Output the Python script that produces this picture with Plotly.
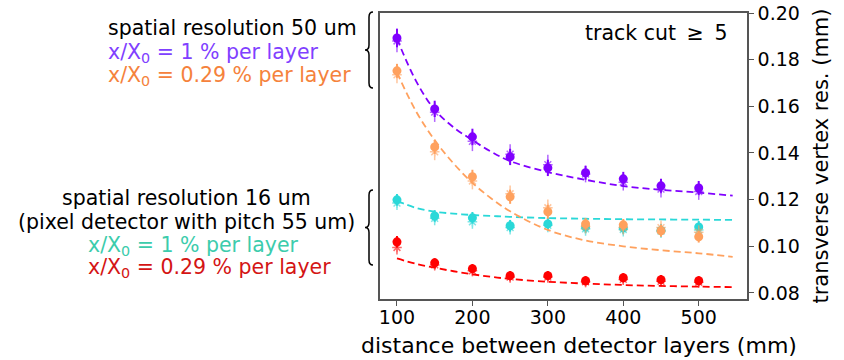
import plotly.graph_objects as go

# ---------------- data ----------------
distance = [100, 150, 200, 250, 300, 350, 400, 450, 500]

purple_val = [0.1893, 0.1589, 0.1469, 0.1383, 0.1336, 0.1315, 0.1289, 0.1259, 0.1250]
purple_err = [0.0040, 0.0035, 0.0035, 0.0035, 0.0035, 0.0030, 0.0030, 0.0030, 0.0030]
purple_alt = [0.1880, 0.1575, 0.1450, 0.1395, 0.1350, 0.1310, 0.1275, 0.1245, 0.1235]

orange_val = [0.1752, 0.1426, 0.1298, 0.1212, 0.1148, 0.1096, 0.1092, 0.1066, 0.1041]
orange_err = [0.0030, 0.0030, 0.0030, 0.0030, 0.0030, 0.0025, 0.0025, 0.0025, 0.0025]
orange_alt = [0.1735, 0.1405, 0.1280, 0.1225, 0.1165, 0.1085, 0.1080, 0.1080, 0.1060]

cyan_val = [0.1199, 0.1130, 0.1122, 0.1088, 0.1096, 0.1083, 0.1079, 0.1068, 0.1083]
cyan_err = [0.0025, 0.0025, 0.0025, 0.0025, 0.0025, 0.0025, 0.0025, 0.0025, 0.0025]
cyan_alt = [0.1185, 0.1120, 0.1105, 0.1080, 0.1090, 0.1075, 0.1072, 0.1065, 0.1070]

red_val = [0.1019, 0.0929, 0.0904, 0.0874, 0.0874, 0.0852, 0.0865, 0.0857, 0.0852]
red_err = [0.0025, 0.0020, 0.0020, 0.0020, 0.0020, 0.0020, 0.0020, 0.0020, 0.0020]
red_alt = [0.0995, 0.0920, 0.0895, 0.0868, 0.0868, 0.0848, 0.0858, 0.0850, 0.0846]

# fitted curves
fit_x = [100, 125, 150, 175, 200, 225, 250, 300, 350, 400, 450, 500, 545]
purple_fit = [0.1890, 0.1710, 0.1585, 0.1510, 0.1455, 0.1405, 0.1365, 0.1318, 0.1285, 0.1258, 0.1242, 0.1230, 0.1217]
orange_fit = [0.1745, 0.1580, 0.1455, 0.1355, 0.1272, 0.1205, 0.1150, 0.1070, 0.1025, 0.1000, 0.0983, 0.0970, 0.0955]
cyan_fit = [0.1195, 0.1165, 0.1148, 0.1140, 0.1134, 0.1130, 0.1126, 0.1121, 0.1118, 0.1116, 0.1115, 0.1114, 0.1113]
red_fit = [0.0948, 0.0925, 0.0908, 0.0893, 0.0880, 0.0869, 0.0860, 0.0848, 0.0840, 0.0834, 0.0830, 0.0827, 0.0825]

y_ticks = [0.08, 0.10, 0.12, 0.14, 0.16, 0.18, 0.20]
x_ticks = [100, 200, 300, 400, 500]

FONT = "DejaVu Sans"
W, H = 844, 360
L, R, T, B = 380, 97, 13, 61
PW, PH = W - L - R, H - T - B


def px(x):
    return (x - L) / PW


def py(y):
    return (H - B - y) / PH


series = [
    ("purple", purple_val, purple_err, purple_alt, purple_fit, "#8000ff"),
    ("cyan", cyan_val, cyan_err, cyan_alt, cyan_fit, "#2ad8d8"),
    ("orange", orange_val, orange_err, orange_alt, orange_fit, "#ffa15e"),
    ("red", red_val, red_err, red_alt, red_fit, "#ff0000"),
]

fig = go.Figure()
for name, val, err, alt, fit, col in series:
    fig.add_trace(go.Scatter(
        x=fit_x, y=fit, mode="lines", line=dict(color=col, width=1.8, dash="7px,4px", shape="spline"),
        showlegend=False, hoverinfo="skip"))
    fig.add_trace(go.Scatter(
        x=distance, y=alt, mode="markers",
        marker=dict(symbol="asterisk-open", size=8, color=col, line=dict(width=1.5, color=col)),
        error_y=dict(type="data", array=[e * 1.2 for e in err], color=col, thickness=1.5, width=0),
        opacity=0.6, showlegend=False))
    fig.add_trace(go.Scatter(
        x=distance, y=val, mode="markers",
        marker=dict(symbol="circle", size=9, color=col),
        error_y=dict(type="data", array=err, color=col, thickness=2, width=0),
        showlegend=False))

ann = []


def text(s, x, y, color="black", anchor="left", size=20.5):
    ann.append(dict(text=s, x=px(x), y=py(y), xref="paper", yref="paper", showarrow=False,
                    xanchor=anchor, yanchor="middle", borderpad=0,
                    font=dict(family=FONT, size=size, color=color)))


text("spatial resolution 50 um", 107, 28)
text("x/X<sub>0</sub> = 1 % per layer", 107, 53, "#8040ff")
text("x/X<sub>0</sub> = 0.29 % per layer", 107, 76, "#f5823c")
text("spatial resolution 16 um", 186, 198, anchor="center")
text("(pixel detector with pitch 55 um)", 186, 222, anchor="center")
text("x/X<sub>0</sub> = 1 % per layer", 87, 246, "#3cccac")
text("x/X<sub>0</sub> = 0.29 % per layer", 87, 268, "#d41414")
text("track cut \u2009≥\u2009 5", 728, 33, anchor="right")
text("distance between detector layers (mm)", 579, 345, anchor="center", size=22)


def brace(ytop, ybot, xtip=373, xv=369, xc=365):
    ym = (ytop + ybot) / 2
    pts = [
        f"M {px(xtip)},{py(ytop)}",
        f"Q {px(xv)},{py(ytop)} {px(xv)},{py(ytop + 5)}",
        f"L {px(xv)},{py(ym - 5)}",
        f"Q {px(xv)},{py(ym)} {px(xc)},{py(ym)}",
        f"Q {px(xv)},{py(ym)} {px(xv)},{py(ym + 5)}",
        f"L {px(xv)},{py(ybot - 5)}",
        f"Q {px(xv)},{py(ybot)} {px(xtip)},{py(ybot)}",
    ]
    return dict(type="path", xref="paper", yref="paper", path=" ".join(pts),
                line=dict(color="black", width=1.5))


fig.update_layout(
    width=W, height=H, margin=dict(l=L, r=R, t=T, b=B, autoexpand=False),
    plot_bgcolor="white", paper_bgcolor="white",
    font=dict(family=FONT, size=19, color="black"),
    annotations=ann,
    shapes=[brace(12, 88), brace(190, 265)],
    xaxis=dict(range=[77.5, 564], tickvals=x_ticks, showgrid=False, zeroline=False,
               automargin=False,
               showline=True, mirror=True, linecolor="#555555", linewidth=1.5,
               ticks="outside", ticklen=5, tickcolor="#555555",
               tickfont=dict(size=19), ticklabelstandoff=-5),
    yaxis=dict(range=[0.0774, 0.20], tickvals=y_ticks, tickformat=".2f", side="right",
               showgrid=False, zeroline=False, automargin=False,
               showline=True, mirror=True, linecolor="#555555", linewidth=1.5,
               ticks="outside", ticklen=5, tickcolor="#555555",
               tickfont=dict(size=19),
               title=dict(text="transverse vertex res. (mm)", font=dict(size=21), standoff=14)),
)

fig.write_html("out.html")
